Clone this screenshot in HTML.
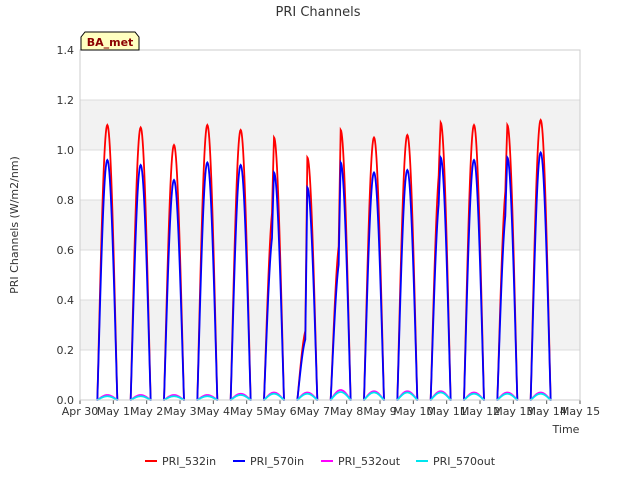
<!DOCTYPE html>
<html><head><meta charset="utf-8"><style>
body{margin:0;background:#fff;font-family:"Liberation Sans","DejaVu Sans",sans-serif}
</style></head><body>
<svg id="c" width="640" height="480" xmlns="http://www.w3.org/2000/svg" font-family="DejaVu Sans, Liberation Sans, sans-serif">
<rect width="640" height="480" fill="#fff"/>
<g id="bands"></g><g id="grid"></g><g id="series"></g><g id="axes"></g>
<text x="318" y="16" text-anchor="middle" font-size="13" fill="#333">PRI Channels</text>
<text transform="translate(18,225) rotate(-90)" text-anchor="middle" font-size="11" fill="#333">PRI Channels (W/m2/nm)</text>
<text x="566" y="433" text-anchor="middle" font-size="11" fill="#333">Time</text>
<g>
<path d="M81,50 L81,37 L85,32 L135,32 L139,37 L139,50 Z" fill="#ffffc0" stroke="#000" stroke-width="1"/>
<text x="110" y="46" text-anchor="middle" font-size="11" font-weight="bold" fill="#8b0000">BA_met</text>
</g>
<g id="legend"></g>
</svg>
<script>
const xTicks=["Apr 30","May 1","May 2","May 3","May 4","May 5","May 6","May 7","May 8","May 9","May 10","May 11","May 12","May 13","May 14","May 15"];
const yTicks=[0,0.2,0.4,0.6,0.8,1.0,1.2,1.4];
const peak532in=[1.10,1.09,1.02,1.10,1.08,1.05,0.97,1.08,1.05,1.06,1.11,1.10,1.10,1.12];
const peak570in=[0.96,0.94,0.88,0.95,0.94,0.91,0.85,0.95,0.91,0.92,0.97,0.96,0.97,0.99];
const peak532out=[0.02,0.02,0.02,0.02,0.025,0.03,0.03,0.04,0.035,0.035,0.035,0.03,0.03,0.03];
const peak570out=[0.015,0.015,0.015,0.015,0.02,0.025,0.025,0.032,0.03,0.03,0.03,0.025,0.025,0.025];
const morningFactor=[1,1,1,1,1,0.75,0.3,0.6,1,1,0.85,1,0.8,1];
const X0=80,X1=580,Y0=400,Y1=50;
const xs=d=>X0+(X1-X0)*d/15, ys=v=>Y0-(Y0-Y1)*v/1.4;
const NS="http://www.w3.org/2000/svg";
function mk(t,a,p){const e=document.createElementNS(NS,t);for(const k in a)e.setAttribute(k,a[k]);p.appendChild(e);return e;}
const bands=document.getElementById('bands'),grid=document.getElementById('grid'),axes=document.getElementById('axes'),series=document.getElementById('series'),legend=document.getElementById('legend');
for(let i=0;i<yTicks.length-1;i++){if(i%2==1){const r=mk('rect',{x:X0,y:ys(yTicks[i+1]),width:X1-X0,height:ys(yTicks[i])-ys(yTicks[i+1]),fill:'#f2f2f2'},bands);

}}
yTicks.forEach(v=>{mk('line',{x1:X0,x2:X1,y1:ys(v),y2:ys(v),stroke:'#dcdcdc'},grid);
const t=mk('text',{x:X0-6,y:ys(v)+4,'text-anchor':'end','font-size':11,fill:'#333'},axes);t.textContent=v.toFixed(1);

});
xTicks.forEach((l,i)=>{mk('line',{x1:xs(i),x2:xs(i),y1:Y0,y2:Y0+4,stroke:'#555'},axes);
const t=mk('text',{x:xs(i),y:Y0+15,'text-anchor':'middle','font-size':11,fill:'#333'},axes);t.textContent=l;

});
mk('rect',{x:X0,y:Y1,width:X1-X0,height:Y0-Y1,fill:'none',stroke:'#ccc'},axes);
function path(peaks,mf){let d='';for(let k=0;k<peaks.length;k++){const s=k+0.52,w=0.6;
d+='M'+xs(s-0.02)+','+ys(0);for(let j=0;j<=40;j++){const f=j/40;let v=peaks[k]*Math.pow(Math.sin(Math.PI*f),1.05);if(mf&&f<0.5)v*=mf[k]+(1-mf[k])*Math.max(0,(f-0.4)/0.1);d+='L'+xs(s+w*f).toFixed(2)+','+ys(v).toFixed(2);}d+='L'+xs(s+w+0.02)+','+ys(0);}return d;}
const S=[["PRI_532in",peak532in,'#ff0000',morningFactor],["PRI_570in",peak570in,'#0000ff',morningFactor],["PRI_532out",peak532out,'#ff00ff',null],["PRI_570out",peak570out,'#00e5ee',null]];
S.forEach(([n,p,c,mf])=>{const e=mk('path',{d:path(p,mf),fill:'none',stroke:c,'stroke-width':1.8},series);

});
const lx=[145,233,321,416];
S.forEach(([n,p,c],i)=>{const g=mk('g',{},legend);


mk('line',{x1:lx[i],x2:lx[i]+12,y1:461,y2:461,stroke:c,'stroke-width':2},g);
const t=mk('text',{x:lx[i]+17,y:465,'font-size':11,fill:'#333'},g);t.textContent=n;});
</script>
</body></html>
